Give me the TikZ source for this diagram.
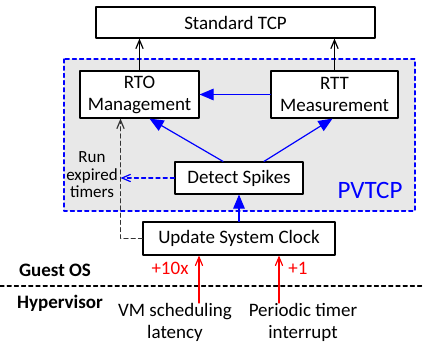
\documentclass[tikz,border=0pt]{standalone}
\usepackage{fontspec}
\setmainfont{Carlito}
\usepackage{tikz}
\usetikzlibrary{arrows}
\usetikzlibrary{calc}

\begin{document}
\begin{tikzpicture}[line cap=round,line join=round,>=triangle 45,x=0.5pt,y=-0.5pt,
  font=\fontsize{9.5}{11}\selectfont,
  box/.style={draw,fill=white,line width=0.6pt,inner sep=0pt,align=center},
  blueline/.style={blue,line width=0.6pt},
  redline/.style={red,line width=0.6pt,-angle 45},
  shortdash/.style={dash pattern=on 2pt off 1.6pt}]
\useasboundingbox (0,0) rectangle (424,348);
% PVTCP area
\draw [blue,shortdash,line width=0.6pt,fill=black!9] (64,59) rectangle (415,211);
\node [blue,font=\fontsize{12.5}{14}\selectfont] (pv) at (370,190) {PVTCP};
% boxes
\node [box,minimum width=139.5pt,minimum height=15.5pt] (tcp) at (235.5,22.5) {Standard TCP};
\node [box,minimum width=59.5pt,minimum height=23.5pt] (rto) at (139.5,94.5) {RTO\\Management};
\node [box,minimum width=63.5pt,minimum height=23.5pt] (rtt) at (334.5,94.5) {RTT\\Measurement};
\node [box,minimum width=64pt,minimum height=16pt] (det) at (239,178) {Detect Spikes};
\node [box,minimum width=96pt,minimum height=16.5pt] (upd) at (239,238.5) {Update System Clock};
\draw [line width=0.6pt,-angle 45] (rto.north) -- (rto.north |- tcp.south);
\draw [line width=0.6pt,-angle 45] (rtt.north) -- (rtt.north |- tcp.south);
\draw [blueline,->] (rtt.west) -- (rto.east);
\draw [blueline,->] ($(det.north)+(-16,0)$) -- ($(rto.south)+(10,0)$);
\draw [blueline,->] ($(det.north)+(25,0)$) -- ($(rtt.south)+(-2,0)$);
\draw [blueline,->] (upd.north) -- (det.south);
% timers
\coordinate (tm) at ($(rto.south)+(-19,0)$);
\draw [black!80,shortdash,line width=0.6pt,-angle 45] (upd.west) -| (tm);
\draw [blue,shortdash,line width=0.6pt,-angle 45] (det.west) -- (det.west -| tm);
\node [align=center,font=\fontsize{8.5}{8.8}\selectfont] (run) at (92,175) {Run\\expired\\timers};
% guest / hypervisor
\coordinate (l) at (0,286);
\coordinate (r) at (424,286);
\draw [shortdash,line width=0.6pt] (l) -- (r);
\node [font=\fontsize{9.5}{11}\selectfont\bfseries] (guest) at (55,270) {Guest OS};
\node [font=\fontsize{9.5}{11}\selectfont\bfseries] (hyp) at (60,303) {Hypervisor};
\coordinate (vm) at (199,303);
\coordinate (pt) at (279,303);
\draw [redline] (vm) -- (vm |- upd.south);
\draw [redline] (pt) -- (pt |- upd.south);
\node [red] (ten) at (170,268) {+10x};
\node [red] (one) at (298,268) {+1};
\node [align=center] (vml) at (175,322) {VM scheduling\\latency};
\node [align=center] (ptl) at (303,322) {Periodic timer\\interrupt};
\end{tikzpicture}
\end{document}
